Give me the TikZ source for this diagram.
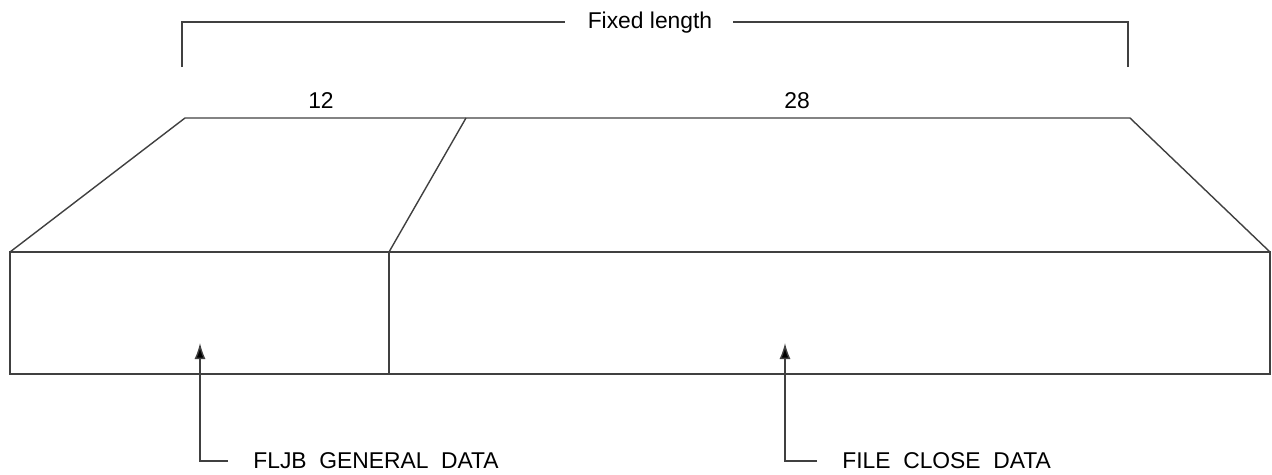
\documentclass[tikz,border=0pt]{standalone}
\usepackage{fontspec}
\setmainfont{Liberation Sans}
\usepackage{tikz}
\usetikzlibrary{arrows.meta}

\begin{document}
\begin{tikzpicture}[x=0.02cm, y=-0.02cm]
\tikzstyle{outline} = [draw=black!75, line width=0.8pt]
\tikzstyle{label} = [inner sep=0pt, font=\fontsize{13pt}{15pt}\selectfont]
\tikzstyle{pointer} = [draw=black!75, line width=0.8pt, -{Latex[length=0.32cm, width=0.22cm, fill=black]}]

\useasboundingbox (0,0) rectangle (1272,474);

% corners of the record
\coordinate (TL) at (185,118);
\coordinate (TM) at (466,118);
\coordinate (TR) at (1130,118);
\coordinate (BL) at (10,252);
\coordinate (BM) at (389,252);
\coordinate (BR) at (1270,252);
\coordinate (FL) at (10,374);
\coordinate (FM) at (389,374);
\coordinate (FR) at (1270,374);

% bracket
\node[label, anchor=base] (fixed) at (650,28) {Fixed length};
\coordinate (bl) at (182,67);
\coordinate (br) at (1128,67);
\draw[outline] (bl) |- (fixed.west -| 565,0);
\draw[outline] (br) |- (fixed.east -| 733,0);

\node[label, anchor=base] (len1) at (321,108) {12};
\node[label, anchor=base] (len2) at (797,108) {28};

\draw[outline] (BL) -- (TL) -- (TR) -- (BR);
\draw[outline] (TM) -- (BM);
\draw[outline] (BL) rectangle (FR);
\draw[outline] (BM) -- (FM);

% labels
\node[label, anchor=west] (gen) at (253,461) {FLJB\ \ GENERAL\ \ DATA};
\node[label, anchor=west] (close) at (842,461) {FILE\ \ CLOSE\ \ DATA};
\coordinate (g0) at (228,461);
\coordinate (c0) at (817,461);
\draw[pointer] (g0) -| (200,343);
\draw[pointer] (c0) -| (785,343);
\end{tikzpicture}
\end{document}
